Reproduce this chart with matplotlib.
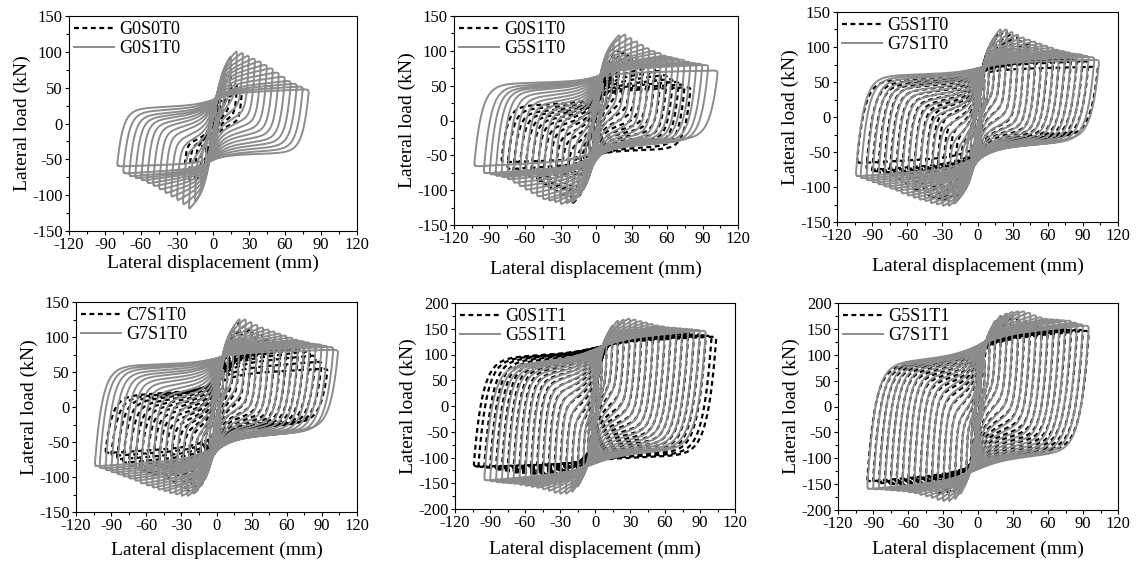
import numpy as np
import matplotlib
matplotlib.use('Agg')
import matplotlib.pyplot as plt
from matplotlib.ticker import MultipleLocator

plt.rcParams['font.family'] = ['Liberation Serif', 'DejaVu Serif']
plt.rcParams['axes.unicode_minus'] = False

# peak displacement of each cycle (mm), peak loads (kN), load where each
# branch starts after unloading (upper branch at -D, lower branch at +D)
g0s0t0_d = [3, 6, 10, 15, 20, 24]
g0s0t0_p = [20, 40, 55, 68, 55, 46]
g0s0t0_n = [-22, -42, -62, -80, -80, -70]
g0s0t0_l = [-8, -15, -25, -35, -35, -30]
g0s0t0_r = [6, 12, 18, 22, 15, 5]

g0s1t0_d = [3, 6, 10, 15, 20, 25, 30, 35, 40, 45, 50, 55, 60, 65, 70, 75, 80]
g0s1t0_p = [25, 45, 72, 95, 102, 100, 96, 92, 88, 83, 78, 72, 66, 60, 56, 52, 48]
g0s1t0_n = [-30, -55, -85, -110, -120, -114, -108, -103, -98, -93, -88, -84, -80, -77, -74, -70, -60]
g0s1t0_l = [-10, -22, -40, -55, -55, -45, -35, -28, -20, -14, -8, -3, 2, 6, 10, 15, 20]
g0s1t0_r = [8, 18, 30, 40, 40, 30, 20, 12, 5, -2, -8, -14, -20, -25, -30, -35, -40]

g5s1t0_d = [3, 6, 10, 15, 20, 25, 30, 35, 40, 45, 50, 55, 60, 65, 70, 75, 80, 85, 90, 95, 103]
g5s1t0_p = [28, 55, 85, 112, 124, 125, 120, 115, 110, 105, 101, 98, 94, 92, 90, 88, 85, 83, 82, 80, 72]
g5s1t0_n = [-30, -58, -88, -110, -118, -120, -121, -118, -116, -114, -110, -105, -100, -95, -90, -85, -82, -80, -78, -76, -66]
g5s1t0_l = [-10, -22, -38, -42, -35, -25, -15, -5, 0, 5, 10, 15, 20, 25, 30, 35, 40, 43, 45, 48, 52]
g5s1t0_r = [8, 18, 32, 38, 30, 20, 10, 0, -5, -10, -14, -18, -20, -22, -24, -25, -26, -27, -28, -28, -25]

g7s1t0_d = [3, 6, 10, 15, 20, 25, 30, 35, 40, 45, 50, 55, 60, 65, 70, 75, 80, 85, 90, 95, 100, 104]
g7s1t0_p = [28, 55, 88, 115, 127, 127, 123, 119, 115, 112, 109, 106, 103, 100, 97, 95, 93, 91, 90, 88, 86, 82]
g7s1t0_n = [-30, -58, -90, -115, -125, -128, -128, -126, -124, -121, -119, -116, -113, -110, -106, -103, -100, -97, -94, -91, -88, -85]
g7s1t0_l = [-10, -22, -40, -50, -50, -40, -30, -20, -10, -2, 5, 12, 18, 24, 30, 35, 40, 44, 48, 52, 55, 58]
g7s1t0_r = [8, 18, 32, 38, 30, 20, 10, 2, -5, -10, -15, -18, -21, -24, -26, -28, -30, -31, -32, -33, -33, -30]

c7s1t0_d = [3, 6, 10, 15, 20, 25, 30, 35, 40, 45, 50, 55, 60, 65, 70, 75, 80, 85, 90, 95]
c7s1t0_p = [28, 55, 85, 112, 122, 118, 113, 108, 103, 98, 94, 90, 88, 87, 86, 84, 80, 74, 65, 55]
c7s1t0_n = [-30, -58, -90, -115, -125, -122, -118, -113, -108, -104, -100, -97, -94, -91, -88, -85, -80, -75, -70, -66]
c7s1t0_l = [-10, -22, -40, -50, -50, -45, -40, -35, -30, -25, -20, -15, -10, -6, -2, 2, 6, 9, 12, 15]
c7s1t0_r = [8, 18, 30, 32, 25, 15, 8, 2, -3, -8, -12, -15, -17, -19, -20, -21, -22, -22, -22, -20]

g0s1t1_d = [3, 6, 10, 15, 20, 25, 30, 35, 40, 45, 50, 55, 60, 65, 70, 75, 80, 85, 90, 95, 100, 104]
g0s1t1_p = [45, 85, 120, 135, 140, 145, 148, 150, 150, 150, 149, 148, 147, 146, 145, 144, 143, 142, 140, 138, 137, 135]
g0s1t1_n = [-50, -90, -125, -140, -142, -142, -140, -138, -136, -135, -134, -133, -132, -131, -130, -128, -126, -124, -122, -120, -119, -118]
g0s1t1_l = [-18, -35, -50, -45, -35, -20, -5, 8, 20, 30, 40, 48, 55, 62, 68, 73, 78, 82, 85, 88, 90, 92]
g0s1t1_r = [15, 30, 50, 50, 40, 25, 10, -3, -15, -25, -35, -43, -50, -57, -63, -69, -74, -79, -84, -88, -92, -95]

g5s1t1_d = [3, 6, 10, 15, 20, 25, 30, 35, 40, 45, 50, 55, 60, 65, 70, 75, 80, 85, 90, 95]
g5s1t1_p = [45, 88, 130, 158, 168, 170, 172, 170, 167, 164, 161, 158, 156, 154, 153, 152, 151, 150, 149, 147]
g5s1t1_n = [-50, -92, -132, -158, -168, -172, -172, -170, -166, -163, -160, -158, -156, -154, -152, -151, -150, -149, -147, -145]
g5s1t1_l = [-18, -35, -50, -45, -35, -20, -6, 6, 18, 28, 37, 45, 52, 58, 63, 67, 70, 72, 74, 75]
g5s1t1_r = [15, 30, 50, 50, 40, 25, 10, -2, -14, -24, -34, -42, -50, -56, -62, -67, -71, -75, -78, -80]

g7s1t1_d = [3, 6, 10, 15, 20, 25, 30, 35, 40, 45, 50, 55, 60, 65, 70, 75, 80, 85, 90, 95]
g7s1t1_p = [48, 92, 138, 168, 178, 182, 185, 186, 186, 183, 178, 174, 171, 170, 169, 168, 167, 163, 160, 157]
g7s1t1_n = [-52, -95, -140, -170, -180, -184, -184, -182, -178, -175, -172, -169, -167, -165, -164, -163, -162, -161, -161, -160]
g7s1t1_l = [-18, -35, -50, -45, -35, -20, -5, 8, 20, 30, 40, 48, 55, 61, 66, 70, 73, 76, 78, 80]
g7s1t1_r = [15, 30, 50, 50, 40, 25, 10, -3, -16, -27, -37, -46, -54, -61, -67, -72, -76, -80, -83, -85]

specimens = {
    'G0S0T0': (g0s0t0_d, g0s0t0_p, g0s0t0_n, g0s0t0_l, g0s0t0_r, 'T0'),
    'G0S1T0': (g0s1t0_d, g0s1t0_p, g0s1t0_n, g0s1t0_l, g0s1t0_r, 'T0'),
    'G5S1T0': (g5s1t0_d, g5s1t0_p, g5s1t0_n, g5s1t0_l, g5s1t0_r, 'T0'),
    'G7S1T0': (g7s1t0_d, g7s1t0_p, g7s1t0_n, g7s1t0_l, g7s1t0_r, 'T0'),
    'C7S1T0': (c7s1t0_d, c7s1t0_p, c7s1t0_n, c7s1t0_l, c7s1t0_r, 'T0'),
    'G0S1T1': (g0s1t1_d, g0s1t1_p, g0s1t1_n, g0s1t1_l, g0s1t1_r, 'T1'),
    'G5S1T1': (g5s1t1_d, g5s1t1_p, g5s1t1_n, g5s1t1_l, g5s1t1_r, 'T1'),
    'G7S1T1': (g7s1t1_d, g7s1t1_p, g7s1t1_n, g7s1t1_l, g7s1t1_r, 'T1'),
}

# loop shape: unloading length, pinch width (share of D and minimum mm),
# linear share, pinch offset
shape = {'T0': (0.06, 0.2, 6.0, 0.45, 2.0), 'T1': (0.07, 0.25, 5.0, 0.55, 2.0)}


def round_corners(x, y, ymax, sigma=0.012):
    # resample the closed loop by arc length and blur it a little so that
    # the corners come out rounded like a measured curve
    u, v = x / 240.0, y / (1.4 * ymax)
    seg = np.hypot(np.diff(u), np.diff(v))
    t = np.r_[0, np.cumsum(seg)]
    total = t[-1]
    m = 600
    tt = np.linspace(0, total, m, endpoint=False)
    xr = np.interp(tt, t, x)
    yr = np.interp(tt, t, y)
    k = int(max(1, sigma / total * m * 3))
    w = np.exp(-0.5 * (np.arange(-k, k + 1) / (sigma / total * m)) ** 2)
    w /= w.sum()
    xs = np.convolve(np.r_[xr[-k:], xr, xr[:k]], w, mode='valid')
    ys = np.convolve(np.r_[yr[-k:], yr, yr[:k]], w, mode='valid')
    return np.r_[xs, xs[0]], np.r_[ys, ys[0]]


def one_loop(D, P, N, L, R, kind, ymax):
    af, bf, bmin, c, x0 = shape[kind]
    u = np.linspace(0, 1, 300)
    x = -D + D * (1 - np.cos(np.pi * u))
    a = max(0.6, af * D)
    b = max(bmin, bf * D)
    x0 = min(x0, 0.2 * D)

    def s(v, sh):
        return (1 - c) * np.tanh((v - sh) / b) + c * v / D

    S = (s(x, x0) - s(-D, x0)) / (s(D, x0) - s(-D, x0))
    y_up = N + (L - N) * (1 - np.exp(-(x + D) / a)) + (P - L) * S
    xd = x[::-1]
    Sd = (s(D, -x0) - s(xd, -x0)) / (s(D, -x0) - s(-D, -x0))
    y_dn = P - (P - R) * (1 - np.exp(-(D - xd) / a)) - (R - N) * Sd
    xs, ys = round_corners(np.r_[x, xd[1:]], np.r_[y_up, y_dn[1:]], ymax)
    return np.r_[xs, np.nan], np.r_[ys, np.nan]


def all_loops(name, ymax):
    d, p, n, l, r, kind = specimens[name]
    xs, ys = [], []
    for k in range(len(d)):
        x, y = one_loop(d[k], p[k], n[k], l[k], r[k], kind, ymax)
        xs.append(x)
        ys.append(y)
    return np.concatenate(xs), np.concatenate(ys)


W, H = 1136, 564
# (left, top, right, bottom) in pixels, y range, dashed, solid, xlabel pad
panels = [
    ((69, 16, 357, 231), 150, 'G0S0T0', 'G0S1T0', 1),
    ((454, 16, 738, 225), 150, 'G0S1T0', 'G5S1T0', 10),
    ((837, 12, 1118, 222), 150, 'G5S1T0', 'G7S1T0', 10),
    ((76, 302, 357, 512), 150, 'C7S1T0', 'G7S1T0', 5),
    ((455, 303, 735, 509), 200, 'G0S1T1', 'G5S1T1', 7),
    ((838, 303, 1118, 510), 200, 'G5S1T1', 'G7S1T1', 6),
]

fig = plt.figure(figsize=(W / 100, H / 100), dpi=100)
for (x1, y1, x2, y2), ymax, dashed, solid, pad in panels:
    ax = fig.add_axes([x1 / W, 1 - y2 / H, (x2 - x1) / W, (y2 - y1) / H])
    bx, by = all_loops(dashed, ymax)
    gx, gy = all_loops(solid, ymax)
    ax.plot(bx, by, color='black', lw=1.6, ls=(0, (2.2, 1.6)), label=dashed, zorder=2)
    ax.plot(gx, gy, color='#8c8c8c', lw=1.4, label=solid, zorder=3)
    ax.set_xlim(-120, 120)
    ax.set_ylim(-ymax, ymax)
    ax.xaxis.set_major_locator(MultipleLocator(30))
    ax.xaxis.set_minor_locator(MultipleLocator(15))
    ax.yaxis.set_major_locator(MultipleLocator(50))
    ax.yaxis.set_minor_locator(MultipleLocator(25))
    ax.tick_params(which='both', direction='out', top=False, right=False,
                   labelsize=12, pad=1.5)
    ax.tick_params(which='major', length=3, width=0.8)
    ax.tick_params(which='minor', length=2.5, width=0.8)
    ax.set_xlabel('Lateral displacement (mm)', fontsize=14, labelpad=pad)
    ax.set_ylabel('Lateral load (kN)', fontsize=14, labelpad=1)
    ax.legend(loc='upper left', frameon=False, fontsize=13,
              handlelength=2.2, handletextpad=0.3, labelspacing=0.1,
              borderaxespad=0.1, borderpad=0.2)

fig.savefig('out.png', dpi=100)
